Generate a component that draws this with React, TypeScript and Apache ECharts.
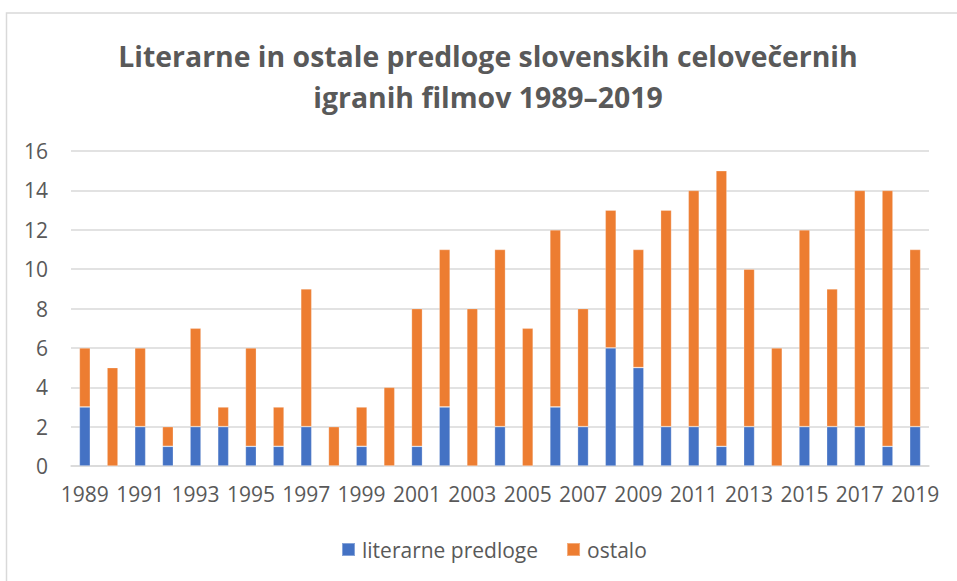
import React, { useEffect, useRef } from "react";
import * as echarts from "echarts";

const years: string[] = [
  "1989", "1990", "1991", "1992", "1993", "1994", "1995", "1996", "1997", "1998",
  "1999", "2000", "2001", "2002", "2003", "2004", "2005", "2006", "2007", "2008",
  "2009", "2010", "2011", "2012", "2013", "2014", "2015", "2016", "2017", "2018", "2019",
];

const literarne: number[] = [
  3, 0, 2, 1, 2, 2, 1, 1, 2, 0,
  1, 0, 1, 3, 0, 2, 0, 3, 2, 6,
  5, 2, 2, 1, 2, 0, 2, 2, 2, 1, 2,
];

const ostalo: number[] = [
  3, 5, 4, 1, 5, 1, 5, 2, 7, 2,
  2, 4, 7, 8, 8, 9, 7, 9, 6, 7,
  6, 11, 12, 14, 8, 6, 10, 7, 12, 13, 9,
];

const titleText = "Literarne in ostale predloge slovenskih celovečernih\nigranih filmov 1989–2019";
const seriesNames = ["literarne predloge", "ostalo"];

const FONT = "'Open Sans', Lato, sans-serif";
const GRAY = "#595959";

export default function App() {
  const ref = useRef<HTMLDivElement>(null);

  useEffect(() => {
    if (!ref.current) return;
    const chart = echarts.init(ref.current, undefined, { renderer: "svg" });
    chart.setOption({
      animation: false,
      backgroundColor: "#ffffff",
      textStyle: { fontFamily: FONT },
      title: {
        text: titleText,
        left: 483,
        top: 30,
        textAlign: "center",
        textStyle: {
          fontFamily: FONT,
          fontSize: 28.4,
          fontWeight: "bold",
          color: GRAY,
          lineHeight: 41,
        },
      },
      graphic: [
        {
          type: "rect",
          shape: { x: 6.5, y: 13, width: 1000, height: 1000 },
          style: { fill: "none", stroke: "#d9d9d9", lineWidth: 1.5 },
          silent: true,
        },
      ],
      legend: {
        bottom: 16,
        left: 336,
        icon: "rect",
        itemWidth: 13,
        itemHeight: 13,
        itemGap: 28,
        textStyle: { fontFamily: FONT, fontSize: 21, color: GRAY, padding: [0, 0, 0, 2] },
        data: seriesNames,
      },
      grid: { left: 71, right: 28, top: 151, bottom: 115, containLabel: false },
      xAxis: {
        type: "category",
        data: years,
        axisLine: { show: true, lineStyle: { color: "#d9d9d9", width: 1.5 } },
        axisTick: { show: false },
        axisLabel: {
          interval: 1,
          margin: 17,
          fontFamily: FONT,
          fontSize: 21,
          color: GRAY,
        },
      },
      yAxis: {
        type: "value",
        min: 0,
        max: 16,
        interval: 2,
        axisLine: { show: false },
        axisTick: { show: false },
        axisLabel: { margin: 23, fontFamily: FONT, fontSize: 21, color: GRAY },
        splitLine: { lineStyle: { color: "#d9d9d9", width: 1.5 } },
      },
      series: [
        {
          name: seriesNames[0],
          type: "bar",
          stack: "total",
          barWidth: 11,
          data: literarne,
          itemStyle: { color: "#4472C4", borderColor: "rgba(255,255,255,0.35)", borderWidth: 0.75 },
        },
        {
          name: seriesNames[1],
          type: "bar",
          stack: "total",
          barWidth: 11,
          data: ostalo,
          itemStyle: { color: "#ED7D31", borderColor: "rgba(255,255,255,0.35)", borderWidth: 0.75 },
        },
      ],
    });
    return () => chart.dispose();
  }, []);

  return (
    <div
      ref={ref}
      style={{ position: "absolute", left: 0, top: 0, width: 957, height: 581 }}
    />
  );
}
